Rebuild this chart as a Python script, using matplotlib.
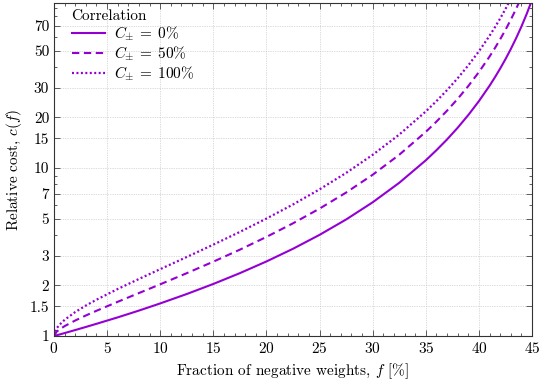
import matplotlib
matplotlib.use("Agg")
import matplotlib.pyplot as plt
from matplotlib.ticker import FixedLocator, NullFormatter, FixedFormatter

plt.rcParams["font.family"] = "serif"
plt.rcParams["font.serif"] = ["cmr10", "DejaVu Serif"]
plt.rcParams["mathtext.fontset"] = "cm"
plt.rcParams["axes.formatter.use_mathtext"] = True

# fraction of negative weights f [%]
frac = [0, 0.25, 0.5, 1, 2, 3, 4, 6, 8, 10, 12.5, 15, 17.5, 20, 22.5, 25, 27.5,
        30, 32.5, 35, 36, 37, 38, 39, 40, 41, 41.5, 42, 42.5, 43, 43.5, 44, 44.5, 45]

# relative cost c(f)
cost_c0 = [1.0, 1.010, 1.020, 1.041, 1.085, 1.132, 1.182, 1.291, 1.417, 1.563,
           1.778, 2.041, 2.367, 2.778, 3.306, 4.0, 4.938, 6.25, 8.163, 11.11,
           12.76, 14.79, 17.36, 20.66, 25.0, 30.86, 34.60, 39.06, 44.44, 51.02,
           59.17, 69.44, 82.64, 100.0]
cost_c50 = [1.0, 1.061, 1.092, 1.145, 1.237, 1.325, 1.413, 1.598, 1.802, 2.031,
            2.366, 2.770, 3.266, 3.889, 4.686, 5.732, 7.143, 9.114, 11.99, 16.41,
            18.88, 21.94, 25.79, 30.74, 37.25, 46.04, 51.65, 58.34, 66.42, 76.28,
            88.51, 103.9, 123.7, 149.9]
cost_c100 = [1.0, 1.111, 1.164, 1.248, 1.389, 1.518, 1.645, 1.905, 2.186, 2.5,
             2.954, 3.498, 4.166, 5.0, 6.067, 7.464, 9.348, 11.98, 15.81, 21.71,
             25.0, 29.08, 34.22, 40.82, 49.50, 61.22, 68.70, 77.62, 88.39, 101.5,
             117.8, 138.1, 164.8, 199.5]

labels = [r"$C_{\pm}\:=\:0\%$", r"$C_{\pm}\:=\:50\%$", r"$C_{\pm}\:=\:100\%$"]
yticks = [1, 1.5, 2, 3, 5, 7, 10, 15, 20, 30, 50, 70]
ytick_labels = ["1", "1.5", "2", "3", "5", "7", "10", "15", "20", "30", "50", "70"]
yminor = [4, 6, 8, 9, 40, 60, 80, 90]

color = "#9400d3"

fig = plt.figure(figsize=(5.39, 3.87), dpi=100)
ax = fig.add_axes([0.1002, 0.1318, 0.8868, 0.8604])

ax.plot(frac, cost_c0, color=color, lw=1.5, ls="-", label=labels[0])
ax.plot(frac, cost_c50, color=color, lw=1.5, ls=(0, (3.5, 2.2)), label=labels[1])
ax.plot(frac, cost_c100, color=color, lw=1.6, ls=(0, (0.9, 1.1)), label=labels[2])

ax.set_yscale("log")
ax.set_xlim(0, 45)
ax.set_ylim(1, 96)

ax.xaxis.set_major_locator(FixedLocator(range(0, 46, 5)))
ax.xaxis.set_minor_locator(FixedLocator(range(0, 46, 1)))
ax.yaxis.set_major_locator(FixedLocator(yticks))
ax.yaxis.set_major_formatter(FixedFormatter(ytick_labels))
ax.yaxis.set_minor_locator(FixedLocator(yminor))
ax.yaxis.set_minor_formatter(NullFormatter())

ax.tick_params(which="both", direction="in", top=True, right=True,
               labelsize=11, width=0.6, color="#444444")
ax.tick_params(which="major", length=4)
ax.tick_params(which="minor", length=2)
for s in ax.spines.values():
    s.set_linewidth(0.8)
    s.set_color("#333333")

ax.grid(which="major", ls=(0, (1, 1.5)), lw=0.5, color="#bbbbbb")

ax.set_xlabel(r"Fraction of negative weights, $f$ [%]", fontsize=11)
ax.set_ylabel(r"Relative cost, $c(f)$", fontsize=11)

leg = ax.legend(loc="upper left", bbox_to_anchor=(0.032, 0.988), borderaxespad=0,
                borderpad=0.15, title="Correlation", frameon=False,
                fontsize=11, title_fontsize=11, handlelength=2.2,
                handletextpad=0.6, labelspacing=0.1, alignment="left")

fig.savefig("out.png", dpi=100)
